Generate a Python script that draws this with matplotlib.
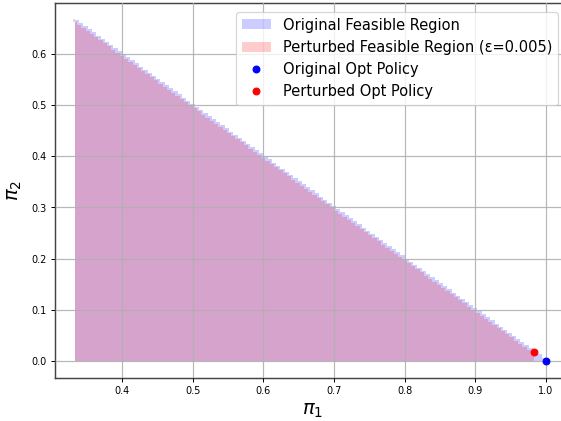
import numpy as np
import matplotlib
matplotlib.use("Agg")
import matplotlib.pyplot as plt
from matplotlib.patches import Patch
from matplotlib.lines import Line2D

# Feasible-region description (constraint values)
pi1_min = 1/3              # left edge of both regions
pi2_max = 0.667            # top vertex of the region
sum_cap = 1.0              # pi1 + pi2 <= 1 (hypotenuse)
perturbed_pi1_cap = 0.983  # perturbed region stops slightly before pi1 = 1
n_levels = 110             # number of horizontal sample rows in the region

# Optimal policies
orig_opt = [1.0, 0.0]
pert_opt = [0.983, 0.017]

fig = plt.figure(figsize=(6.4, 4.8), dpi=87.72)
ax = fig.add_axes([55/561, 43.3/421, 514/561, 374.4/421])

step = pi2_max / n_levels
levels = np.linspace(0, pi2_max, n_levels + 1)
orig_right = sum_cap - levels
ax.fill_betweenx(levels, pi1_min, orig_right, step='post', color='blue',
                 alpha=0.2, lw=0, zorder=1)

pert_levels = levels + step / 2
pert_levels[0] = 0.0
pert_right = np.minimum(sum_cap - pert_levels - step, perturbed_pi1_cap)
ax.fill_betweenx(pert_levels, pi1_min, pert_right, step='post', color='red',
                 alpha=0.2, lw=0, zorder=1)

ax.scatter([orig_opt[0]], [orig_opt[1]], color='blue', s=30, zorder=5)
ax.scatter([pert_opt[0]], [pert_opt[1]], color='red', s=30, zorder=5)

ax.set_xlim(0.305, 1.0333)
ax.set_ylim(-0.0333, 0.7)
ax.set_xticks([0.4, 0.5, 0.6, 0.7, 0.8, 0.9, 1.0])
ax.set_yticks([0.0, 0.1, 0.2, 0.3, 0.4, 0.5, 0.6])
ax.tick_params(labelsize=8)
ax.set_axisbelow(False)
ax.grid(True, color='#b0b0b0', lw=1.0, alpha=0.9)
for s in ax.spines.values():
    s.set_color('#444444')
    s.set_linewidth(1.2)

ax.set_xlabel(r'$\pi_1$', fontsize=16)
ax.set_ylabel(r'$\pi_2$', fontsize=16, labelpad=6)

handles = [
    Patch(facecolor='blue', alpha=0.2, edgecolor='none', label='Original Feasible Region'),
    Patch(facecolor='red', alpha=0.2, edgecolor='none', label='Perturbed Feasible Region (ε=0.005)'),
    Line2D([], [], marker='o', color='blue', ls='none', markersize=5.5, label='Original Opt Policy'),
    Line2D([], [], marker='o', color='red', ls='none', markersize=5.5, label='Perturbed Opt Policy'),
]
leg = ax.legend(handles=handles, loc='upper right', fontsize=12,
                bbox_to_anchor=(1 - 7/514, 1 - 4/374), borderaxespad=0.3)
leg.set_zorder(10)

fig.savefig('out.png', dpi=87.72)
